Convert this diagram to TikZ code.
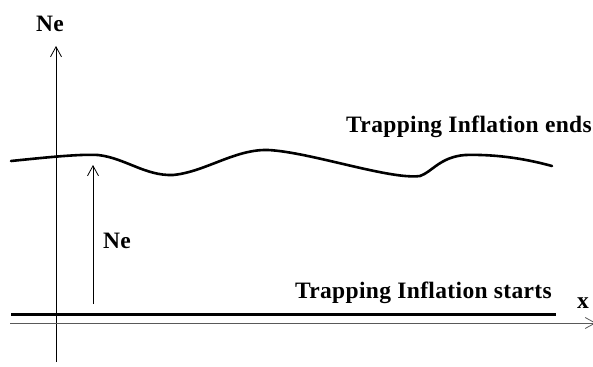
\documentclass[tikz,border=0pt]{standalone}
\usepackage{fontspec}
\setmainfont{Liberation Serif}[LetterSpace=1.5]
\usetikzlibrary{arrows.meta}
\begin{document}
\begin{tikzpicture}[x=1pt,y=-1pt,
  lbl/.style={font=\bfseries\fontsize{23.5}{26}\selectfont, inner sep=0pt},
  axis/.style={line width=0.8pt, -{Straight Barb[length=10pt,width=11pt,line width=0.8pt]}},
  curve/.style={line width=2.6pt, line cap=round}]
\useasboundingbox (0,0) rectangle (593,366);
% axes
\coordinate (vb) at (56,362);
\coordinate (vt) at (56,46);
\draw[axis] (vb) -- (vt);
\node[lbl, anchor=base west] (ylab) at (36,32) {Ne};
\coordinate (hl) at (10,323);
\coordinate (hr) at (596,323);
\draw[axis, draw=black!65] (hl) -- (hr);
\node[lbl, anchor=base west] (xlab) at (577,308) {x};
% start line
\coordinate (sl) at (11,314);
\coordinate (sr) at (556,314);
\draw[line width=3pt] (sl) -- (sr);
\node[lbl, anchor=base east] (starts) at (552,298) {Trapping Inflation starts};
% end curve
\draw[curve] (11,161) .. controls (50,157) and (80,154) .. (98,155)
  .. controls (125,158) and (145,176) .. (173,175)
  .. controls (205,172) and (235,149) .. (268,150)
  .. controls (310,152) and (390,180) .. (420,176)
  .. controls (432,172) and (440,157) .. (465,155)
  .. controls (500,154) and (530,160) .. (552,166);
\node[lbl, anchor=base east] (ends) at (592,132) {Trapping Inflation ends};
% Ne arrow
\coordinate (ab) at (93,304);
\coordinate (at) at (93,165);
\draw[axis] (ab) -- (at);
\node[lbl, anchor=base west] (nelab) at (103,248) {Ne};
\end{tikzpicture}
\end{document}
